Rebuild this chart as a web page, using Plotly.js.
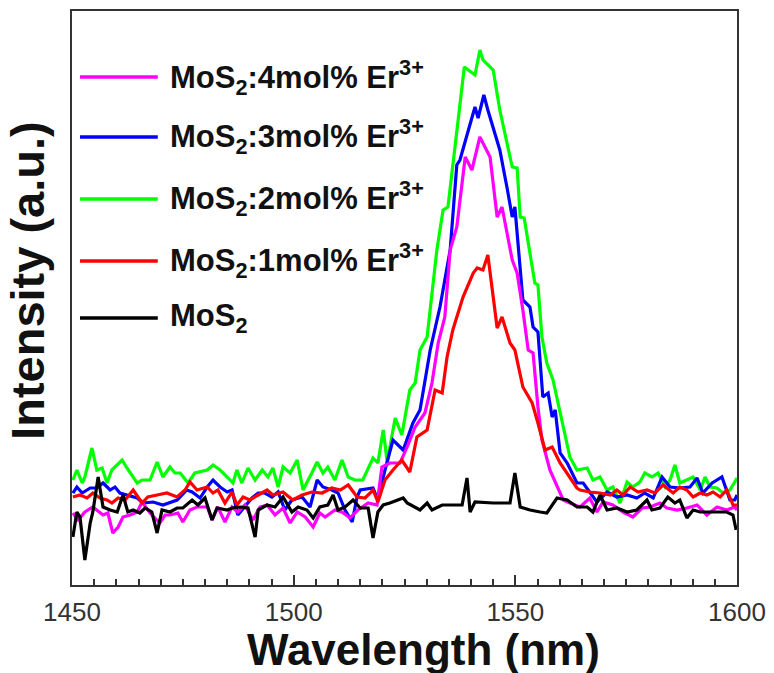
<!DOCTYPE html>
<html>
<head>
<meta charset="utf-8">
<script src="https://cdn.plot.ly/plotly-3.0.1.min.js"></script>
<style>html,body{margin:0;padding:0;background:#fff;}#chart{width:774px;height:673px;}</style>
</head>
<body>
<div id="chart"></div>
<script>
// Series labels (legend order, top to bottom)
var seriesNames = [
  'MoS<sub>2</sub>:4mol% Er<sup>3+</sup>',
  'MoS<sub>2</sub>:3mol% Er<sup>3+</sup>',
  'MoS<sub>2</sub>:2mol% Er<sup>3+</sup>',
  'MoS<sub>2</sub>:1mol% Er<sup>3+</sup>',
  'MoS<sub>2</sub>'
];
var seriesColors = ['#ff00ff', '#0000ff', '#00ff00', '#ff0000', '#000000'];

// Wavelength (nm) and intensity (a.u.)
var wl_4mol = [1450.2,1451.4,1452.9,1454.7,1457.0,1458.1,1459.2,1460.4,1461.5,1463.1,1464.7,1465.8,1467.6,1469.8,1471.0,1472.1,1473.9,1475.0,1476.6,1478.2,1480.5,1481.6,1482.9,1484.5,1486.1,1487.4,1489.0,1490.8,1492.4,1494.0,1495.8,1497.6,1499.2,1500.8,1502.6,1504.4,1505.9,1507.1,1509.3,1510.9,1512.7,1514.5,1516.8,1518.8,1519.9,1521.7,1524.0,1525.6,1527.4,1529.6,1531.2,1532.6,1534.1,1535.3,1536.8,1538.7,1540.2,1542.0,1544.3,1545.9,1547.0,1549.3,1550.4,1551.7,1552.9,1554.0,1555.1,1556.0,1557.8,1560.8,1562.3,1564.6,1566.8,1568.4,1569.8,1572.0,1574.3,1576.5,1578.6,1580.4,1582.6,1584.2,1586.5,1588.7,1591.0,1593.2,1595.5,1597.7,1599.5,1600.0];
var int_4mol = [72,65,73,78,70,72,52,58,68,70,73,83,72,62,70,70,72,63,75,78,78,65,78,63,78,73,80,65,78,80,70,77,62,73,68,58,72,68,75,73,67,75,82,80,118,122,122,138,158,172,202,242,268,335,358,428,415,448,428,368,378,325,312,275,235,232,178,145,115,85,82,78,87,73,83,80,73,68,77,78,82,77,75,77,80,70,78,75,78,75];

var wl_3mol = [1450.2,1451.1,1452.3,1454.1,1455.6,1457.0,1458.6,1459.7,1460.8,1462.6,1464.7,1466.0,1468.3,1470.5,1473.7,1475.9,1477.1,1478.9,1480.5,1481.8,1483.4,1485.0,1486.1,1487.4,1489.0,1490.6,1492.0,1493.5,1495.1,1496.5,1498.0,1499.6,1501.9,1503.7,1505.3,1506.6,1508.6,1510.0,1511.6,1513.2,1514.3,1515.0,1517.9,1519.0,1520.6,1522.4,1524.7,1526.9,1528.5,1530.8,1533.0,1535.3,1536.8,1537.5,1539.1,1540.9,1541.6,1542.9,1543.8,1546.5,1548.1,1549.3,1549.9,1551.7,1553.3,1554.0,1555.1,1556.2,1557.4,1558.3,1559.0,1560.1,1561.7,1563.9,1565.3,1566.4,1568.4,1570.7,1572.9,1575.2,1577.4,1579.2,1581.1,1583.1,1584.9,1587.1,1589.4,1591.0,1592.3,1594.4,1596.6,1598.4,1599.5,1600.0];
var int_3mol = [92,98,92,97,97,102,95,98,92,90,87,82,83,80,85,95,93,87,98,105,98,93,95,70,78,87,92,92,88,93,75,85,88,78,105,98,95,92,75,63,88,95,97,85,115,145,135,162,175,235,278,335,420,425,450,478,467,490,475,435,398,368,378,285,278,258,253,188,192,168,175,132,122,102,102,95,83,93,88,90,87,92,87,108,98,97,98,107,92,102,108,85,85,90];

var wl_2mol = [1450.2,1451.1,1452.3,1452.9,1454.5,1455.6,1456.8,1457.9,1459.0,1461.3,1462.4,1464.7,1465.8,1467.6,1469.2,1470.5,1472.1,1473.2,1474.4,1476.2,1477.7,1480.5,1481.8,1483.4,1485.0,1486.3,1487.2,1488.3,1489.7,1491.3,1492.9,1494.2,1495.3,1496.5,1497.6,1499.2,1500.8,1502.1,1504.1,1505.3,1506.6,1507.7,1509.3,1510.9,1512.3,1513.8,1515.6,1517.9,1519.0,1520.2,1521.1,1522.9,1524.4,1526.2,1527.4,1528.5,1530.1,1532.3,1533.7,1534.8,1538.5,1540.9,1542.0,1542.7,1545.0,1546.5,1549.3,1550.4,1551.1,1552.0,1554.4,1555.1,1556.0,1557.1,1558.5,1560.1,1562.3,1563.9,1566.2,1567.5,1569.1,1570.7,1572.0,1573.6,1575.2,1576.5,1578.1,1579.2,1580.8,1582.2,1583.8,1584.9,1586.0,1587.1,1588.7,1590.1,1591.7,1592.8,1593.9,1595.5,1596.8,1598.4,1599.5,1600.0];
var int_2mol = [105,115,102,108,137,115,117,102,115,125,117,102,105,105,123,108,118,112,112,102,112,115,120,115,108,102,115,102,117,105,115,108,117,98,118,112,125,95,112,123,112,118,105,125,108,105,105,127,122,155,123,167,150,195,202,235,248,335,375,378,518,510,535,525,515,475,418,417,368,367,302,300,248,222,205,172,128,115,117,105,108,95,98,82,103,98,103,112,108,112,98,105,120,102,105,108,95,108,98,97,92,95,103,107];

var wl_1mol = [1450.2,1451.8,1453.4,1454.7,1456.3,1457.9,1459.0,1460.4,1462.0,1463.8,1465.8,1467.1,1469.2,1471.4,1473.7,1475.5,1476.6,1478.2,1480.5,1481.8,1482.9,1484.5,1486.1,1487.2,1488.6,1490.1,1492.0,1494.0,1495.3,1497.6,1499.8,1501.9,1504.1,1506.4,1508.6,1510.5,1512.3,1514.3,1516.1,1517.9,1519.0,1520.6,1522.4,1524.4,1526.2,1527.8,1530.1,1531.9,1533.5,1534.6,1535.9,1538.2,1540.5,1541.4,1542.7,1543.8,1545.9,1547.0,1548.8,1549.9,1551.7,1553.8,1555.1,1556.7,1558.3,1560.1,1563.9,1564.6,1566.8,1569.1,1571.4,1572.9,1574.3,1575.9,1577.7,1579.7,1581.5,1583.3,1585.6,1587.1,1588.7,1590.1,1591.7,1593.2,1594.6,1596.2,1597.7,1599.1,1600.0];
var int_1mol = [88,90,87,92,87,85,82,87,85,95,82,88,90,92,88,95,103,95,98,92,95,82,93,80,88,85,90,95,90,93,85,90,93,92,97,95,100,88,87,95,83,105,115,125,113,148,155,195,192,228,255,288,312,317,315,330,257,268,242,235,198,182,162,135,138,122,97,95,93,92,90,95,90,98,93,95,92,100,92,98,95,88,92,90,93,88,95,80,80];

var wl_mos2 = [1450.2,1451.1,1451.8,1452.9,1454.1,1454.7,1455.9,1457.0,1458.6,1460.2,1461.5,1462.6,1463.8,1465.3,1466.5,1468.0,1469.2,1470.3,1472.1,1473.7,1475.0,1477.1,1478.4,1480.0,1481.6,1482.7,1485.0,1486.1,1487.9,1489.7,1491.3,1492.0,1494.0,1495.8,1497.6,1499.6,1501.0,1503.0,1504.4,1505.9,1507.7,1508.9,1510.0,1511.6,1513.4,1515.0,1516.8,1517.9,1519.0,1520.2,1521.7,1524.7,1525.6,1527.4,1528.5,1530.1,1531.2,1533.5,1534.6,1538.0,1539.1,1539.8,1540.9,1545.0,1548.8,1549.9,1551.1,1553.3,1555.6,1557.1,1559.4,1561.7,1563.9,1566.2,1567.5,1569.1,1570.7,1572.9,1575.2,1577.4,1579.7,1580.8,1582.6,1584.4,1586.0,1587.1,1588.7,1590.1,1591.7,1594.6,1597.7,1599.1,1599.8];
var int_mos2 = [48,73,68,25,62,73,108,78,75,73,90,73,75,72,77,73,52,75,73,77,77,85,80,87,65,77,75,77,78,77,48,75,80,78,88,73,78,75,67,78,80,90,75,78,85,77,77,47,73,80,82,87,82,78,75,82,75,80,80,80,107,73,83,82,82,112,78,75,73,72,87,85,78,78,73,90,75,77,73,75,85,75,77,88,82,85,67,75,73,73,73,70,55];

var tickVals = [1450, 1500, 1550, 1600];
var xTitle = 'Wavelength (nm)';
var yTitle = 'Intensity (a.u.)';

var wls = [wl_4mol, wl_3mol, wl_2mol, wl_1mol, wl_mos2];
var ints = [int_4mol, int_3mol, int_2mol, int_1mol, int_mos2];
var drawOrder = [2, 1, 0, 3, 4];

var traces = drawOrder.map(function (i) {
  return {
    x: wls[i], y: ints[i], type: 'scatter', mode: 'lines',
    name: seriesNames[i],
    line: {color: seriesColors[i], width: 3.2},
    showlegend: false, hoverinfo: 'skip'
  };
});

var font = 'Liberation Sans, Arial, Helvetica, sans-serif';

// Legend drawn as line samples + labels in paper coordinates
var legendY = [0.885, 0.7805, 0.6725, 0.5645, 0.4652];
var shapes = [];
var annotations = [];
seriesNames.forEach(function (nm, i) {
  shapes.push({type: 'line', xref: 'paper', yref: 'paper',
    x0: 0.012, x1: 0.129, y0: legendY[i], y1: legendY[i],
    line: {color: seriesColors[i], width: 3.5}});
  annotations.push({xref: 'paper', yref: 'paper', x: 0.145, y: legendY[i],
    xanchor: 'left', yanchor: 'middle', showarrow: false, text: '<b>' + nm + '</b>',
    font: {family: font, size: 31, color: '#111'}});
});
annotations.push({xref: 'paper', yref: 'paper', x: 0.528, y: -0.1115,
  xanchor: 'center', yanchor: 'middle', showarrow: false, text: '<b>' + xTitle + '</b>',
  font: {family: font, size: 44, color: '#111'}});
annotations.push({xref: 'paper', yref: 'paper', x: -0.066, y: 0.53,
  xanchor: 'center', yanchor: 'middle', showarrow: false, textangle: -90, text: '<b>' + yTitle + '</b>',
  font: {family: font, size: 47, color: '#111'}});

var layout = {
  width: 774, height: 673,
  margin: {l: 72, r: 37, t: 11, b: 88, pad: 0},
  paper_bgcolor: '#fff', plot_bgcolor: '#fff',
  showlegend: false,
  xaxis: {
    range: [1450, 1600], tickvals: tickVals, ticktext: tickVals.map(String),
    ticks: 'inside', ticklen: 10, tickwidth: 2, tickcolor: '#333',
    ticklabelstandoff: 3,
    showline: true, linewidth: 2, linecolor: '#333', mirror: true,
    showgrid: false, zeroline: false,
    tickfont: {family: font, size: 26, color: '#333'},
    minor: {dtick: 5, tick0: 1450, ticks: 'inside', ticklen: 6, tickwidth: 2, tickcolor: '#333', showgrid: false}
  },
  yaxis: {
    range: [0, 574], showticklabels: false, ticks: '',
    showline: true, linewidth: 2, linecolor: '#333', mirror: true,
    showgrid: false, zeroline: false
  },
  shapes: shapes,
  annotations: annotations
};

Plotly.newPlot('chart', traces, layout, {staticPlot: true, displayModeBar: false});
</script>
</body>
</html>
